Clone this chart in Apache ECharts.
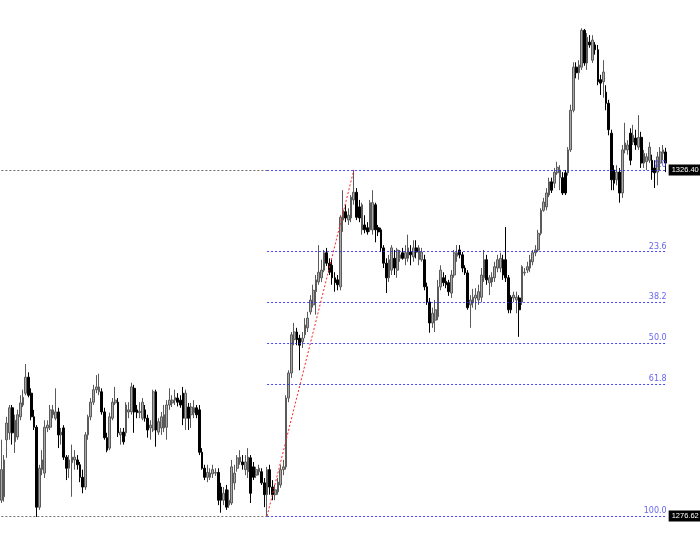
<!DOCTYPE html>
<html><head><meta charset="utf-8">
<script src="https://cdn.jsdelivr.net/npm/echarts@6/dist/echarts.min.js"></script>
<style>html,body{margin:0;padding:0;background:#fff}#c{width:700px;height:545px}</style>
</head><body><div id="c"></div>
<script>
// [open, close, low, high]
const ohlc = [
[1278.9,1283.3,1278.5,1287.6],[1279.4,1284.7,1278.7,1285.4],[1287.6,1290.0,1285.0,1290.9],[1288.6,1292.2,1287.6,1292.6],
[1292.2,1288.6,1286.9,1292.6],[1287.3,1290.4,1285.7,1291.2],[1288.0,1291.2,1287.6,1291.9],[1290.9,1292.9,1290.4,1294.0],
[1292.6,1293.7,1292.3,1294.8],[1294.3,1296.6,1294.0,1298.5],[1296.6,1294.0,1293.7,1297.3],[1294.3,1290.9,1290.4,1295.0],
[1290.9,1289.4,1289.0,1291.9],[1289.4,1277.9,1276.5,1289.7],[1277.9,1283.5,1277.5,1284.0],[1283.3,1284.7,1282.5,1286.1],
[1282.8,1289.4,1282.1,1290.4],[1289.3,1289.7,1288.7,1290.4],[1289.4,1291.9,1289.0,1292.6],[1291.2,1291.9,1290.7,1292.6],
[1290.7,1291.6,1290.4,1295.0],[1291.6,1288.3,1286.4,1292.2],[1288.3,1288.7,1286.9,1289.3],[1289.3,1285.1,1284.7,1289.7],
[1285.1,1283.5,1281.8,1285.4],[1283.5,1284.7,1282.1,1285.4],[1284.3,1285.1,1279.4,1286.9],[1284.7,1285.1,1283.3,1286.1],
[1284.7,1284.0,1283.3,1285.4],[1284.0,1282.2,1281.5,1284.4],[1282.2,1280.8,1279.9,1283.3],[1280.8,1288.3,1280.4,1288.7],
[1288.3,1290.9,1287.6,1291.2],[1290.9,1293.0,1290.4,1293.6],[1293.0,1294.8,1292.6,1295.5],[1294.8,1295.2,1294.3,1296.9],
[1294.5,1295.2,1294.0,1297.1],[1294.5,1291.6,1291.2,1295.0],[1291.6,1287.9,1287.6,1292.2],[1287.9,1286.1,1285.8,1288.6],
[1286.4,1290.9,1286.1,1291.5],[1290.7,1293.0,1290.4,1293.6],[1292.9,1293.3,1292.6,1295.2],[1293.0,1288.6,1288.0,1293.6],
[1288.3,1288.7,1286.9,1289.3],[1288.7,1287.3,1286.9,1289.3],[1288.6,1292.6,1288.1,1293.0],[1291.6,1291.9,1290.7,1293.0],
[1291.6,1295.2,1291.2,1295.8],[1295.0,1291.6,1288.6,1295.5],[1291.9,1291.5,1290.7,1292.6],[1291.5,1291.7,1290.7,1293.0],
[1290.7,1293.0,1290.4,1293.6],[1291.9,1290.7,1290.2,1292.6],[1290.7,1289.0,1287.9,1291.2],[1289.3,1289.7,1287.6,1290.4],
[1289.0,1294.5,1288.7,1294.8],[1294.5,1289.0,1286.6,1294.8],[1288.7,1290.2,1288.3,1290.7],[1289.3,1290.9,1288.3,1291.6],
[1289.3,1291.2,1288.7,1292.6],[1289.4,1292.6,1287.6,1293.3],[1292.6,1293.3,1291.9,1295.0],[1292.9,1293.3,1292.3,1294.0],
[1293.3,1293.7,1292.6,1294.8],[1293.6,1293.0,1292.4,1294.3],[1293.3,1292.6,1292.2,1294.0],[1294.3,1290.7,1289.7,1295.2],
[1290.7,1294.3,1289.0,1294.8],[1292.3,1290.7,1289.0,1292.9],[1291.2,1292.3,1289.3,1292.9],[1291.5,1292.2,1290.7,1293.3],
[1292.2,1291.2,1290.7,1292.6],[1291.9,1285.8,1285.4,1292.6],[1285.8,1283.5,1283.3,1286.4],[1283.5,1282.2,1281.8,1284.0],
[1282.2,1282.9,1281.5,1284.0],[1282.2,1282.8,1281.8,1283.5],[1282.7,1283.3,1282.1,1284.0],[1282.8,1282.9,1282.4,1283.5],
[1282.9,1278.9,1278.2,1283.5],[1280.8,1278.9,1277.1,1281.4],[1278.9,1279.9,1278.2,1280.8],[1280.4,1277.9,1277.5,1281.1],
[1278.2,1278.9,1277.8,1280.4],
[1278.5,1283.7,1278.2,1284.7],[1281.4,1282.8,1280.4,1284.0],[1283.5,1285.0,1283.0,1285.4],[1284.4,1285.1,1284.0,1286.1],
[1284.4,1284.0,1283.3,1285.4],[1283.3,1284.4,1282.5,1285.4],[1283.0,1285.1,1282.1,1286.4],[1285.0,1279.9,1278.5,1285.4],
[1283.7,1282.2,1281.8,1284.4],[1282.5,1283.3,1282.1,1283.7],[1283.0,1283.5,1282.5,1284.0],[1283.0,1281.4,1281.1,1283.5],
[1281.4,1279.7,1277.9,1282.1],[1279.7,1283.3,1276.62,1283.7],[1283.3,1280.8,1279.7,1284.0],[1280.8,1279.7,1278.9,1281.8],
[1279.7,1280.4,1278.9,1281.1],[1280.1,1281.5,1279.7,1282.1],[1281.1,1283.3,1280.7,1284.0],[1283.3,1283.7,1282.5,1284.7],
[1283.7,1293.6,1283.3,1294.0],[1293.6,1297.2,1293.0,1297.6],[1297.2,1302.7,1296.5,1303.1],[1302.0,1303.1,1301.2,1304.4],
[1303.1,1302.0,1301.2,1303.7],[1302.2,1301.2,1297.6,1302.7],[1301.7,1302.2,1300.8,1303.1],[1302.7,1304.1,1302.2,1305.1],
[1303.7,1305.1,1303.1,1306.0],[1306.0,1307.7,1305.6,1308.4],[1307.0,1309.1,1306.6,1309.9],[1308.9,1310.6,1305.6,1311.3],
[1310.3,1311.7,1309.9,1315.6],[1310.9,1312.0,1310.3,1313.5],[1312.0,1314.5,1311.7,1314.9],[1314.5,1313.0,1312.6,1315.2],
[1313.0,1311.7,1311.3,1313.7],[1312.7,1310.9,1309.9,1313.5],[1310.9,1310.2,1308.9,1311.7],[1310.6,1309.9,1309.1,1311.3],
[1309.6,1319.6,1309.1,1319.9],[1319.2,1320.6,1317.5,1323.5],[1320.4,1319.5,1318.9,1321.4],[1319.2,1319.9,1318.5,1320.9],
[1319.5,1322.5,1318.9,1322.8],[1322.1,1323.2,1321.4,1326.4],[1323.2,1319.6,1319.2,1323.8],[1321.1,1319.5,1318.9,1322.1],
[1317.8,1321.4,1317.1,1321.7],[1318.5,1317.8,1317.3,1319.9],[1318.1,1317.5,1317.1,1318.9],[1317.8,1321.7,1317.5,1322.1],
[1317.8,1321.7,1317.1,1323.5],[1321.4,1317.8,1316.0,1321.7],[1318.1,1317.5,1316.9,1318.5],[1317.8,1315.2,1314.6,1318.1],
[1315.2,1313.0,1312.3,1315.6],[1313.0,1310.9,1308.7,1313.7],[1310.9,1313.5,1310.3,1314.2],[1312.0,1315.2,1311.3,1315.6],
[1313.7,1312.3,1311.3,1314.9],[1312.0,1314.9,1310.9,1315.2],[1313.7,1314.2,1313.2,1314.9],[1314.5,1313.7,1313.5,1315.2],
[1313.7,1314.5,1312.7,1315.6],[1313.7,1315.2,1313.2,1317.1],[1314.6,1314.2,1312.7,1315.6],[1313.9,1315.2,1313.2,1316.3],
[1315.2,1314.6,1313.7,1316.3],[1313.5,1315.2,1312.7,1315.6],[1313.5,1314.6,1313.2,1315.2],[1313.5,1309.6,1309.1,1314.2],
[1309.6,1307.4,1307.0,1310.2],[1307.4,1304.4,1303.0,1308.0],[1304.4,1305.8,1303.7,1306.6],[1304.8,1306.3,1303.1,1307.7],
[1305.3,1309.6,1304.8,1310.6],[1309.6,1312.0,1309.1,1312.7],[1310.9,1310.2,1309.7,1311.7],[1310.4,1309.9,1309.4,1311.3],
[1310.2,1308.9,1308.3,1310.6],[1308.7,1311.3,1308.0,1312.0],[1311.3,1314.5,1310.9,1314.9],[1314.0,1314.5,1313.2,1315.6],
[1314.9,1314.2,1313.7,1315.6],[1314.2,1312.3,1311.7,1314.6],[1312.3,1311.6,1311.3,1312.7],[1311.6,1306.6,1306.3,1312.0],
[1307.0,1307.7,1303.7,1308.4],[1307.3,1308.1,1306.6,1309.3],[1308.0,1308.4,1306.3,1309.4],[1307.7,1308.9,1307.0,1309.9],
[1308.1,1311.3,1307.4,1312.3],[1310.9,1313.5,1310.3,1314.9],[1313.5,1310.6,1309.9,1314.2],[1310.2,1310.9,1308.4,1311.3],
[1310.3,1311.0,1309.6,1311.7],[1310.9,1312.5,1310.3,1313.2],[1312.3,1313.5,1311.7,1314.2],[1312.3,1313.7,1311.7,1314.5],
[1313.5,1311.3,1310.6,1314.2],[1313.5,1310.9,1310.3,1318.2],[1310.9,1306.3,1305.8,1311.3],[1308.1,1306.3,1305.8,1308.4],
[1308.0,1308.4,1307.4,1308.9],[1307.7,1308.1,1305.8,1308.9],[1308.0,1306.3,1302.4,1308.4],[1307.4,1312.5,1307.0,1312.7],
[1311.6,1311.7,1311.2,1312.3],[1312.0,1312.5,1311.6,1313.2],[1312.3,1313.5,1311.7,1314.2],[1313.2,1314.5,1312.7,1314.9],
[1314.5,1314.9,1314.0,1315.6],[1314.9,1317.3,1314.6,1317.8],[1317.3,1320.6,1317.0,1320.9],[1320.6,1321.8,1320.4,1322.4],
[1321.1,1323.1,1320.6,1323.8],[1322.8,1324.7,1322.5,1325.3],[1324.7,1323.5,1323.1,1325.3],[1324.5,1326.1,1323.8,1326.7],
[1326.0,1326.8,1325.7,1327.6],[1325.3,1326.4,1323.5,1327.1],[1325.3,1323.1,1322.8,1326.1],[1326.0,1323.1,1322.8,1326.4],
[1326.0,1329.3,1325.6,1329.7],[1329.3,1335.0,1329.0,1335.8],[1335.0,1341.2,1334.7,1341.9],[1341.2,1340.4,1339.6,1341.9],
[1340.4,1341.5,1339.4,1342.2],[1341.2,1346.5,1340.8,1346.8],[1346.5,1341.8,1341.4,1346.7],[1341.8,1345.5,1340.8,1346.1],
[1344.8,1344.4,1344.0,1345.8],[1342.2,1345.1,1341.8,1345.8],[1344.4,1343.7,1343.0,1344.8],[1343.7,1339.1,1338.6,1344.4],
[1339.4,1338.9,1337.2,1340.1],[1339.1,1340.5,1336.8,1342.2],[1337.6,1336.0,1335.0,1338.6],[1336.0,1332.2,1331.4,1336.5],
[1331.7,1325.0,1323.5,1332.2],[1326.4,1324.5,1323.5,1327.1],[1325.0,1326.1,1324.2,1327.1],[1326.1,1323.1,1321.7,1326.7],
[1323.1,1329.3,1322.4,1330.0],[1329.3,1330.3,1328.8,1333.2],[1329.3,1330.0,1328.6,1330.7],[1331.7,1327.8,1327.1,1332.4],
[1330.4,1331.4,1330.0,1332.9],[1331.0,1330.0,1329.3,1332.2],[1329.7,1331.1,1329.3,1334.3],[1331.1,1327.4,1326.7,1331.9],
[1327.4,1328.8,1326.7,1329.3],[1327.6,1328.3,1326.4,1328.8],[1327.8,1329.7,1327.4,1330.4],[1327.8,1326.1,1325.0,1328.6],
[1326.7,1326.0,1323.8,1327.8],[1326.1,1328.3,1324.2,1329.0],[1327.4,1329.0,1326.4,1329.7],[1328.8,1329.3,1327.8,1330.0],
[1329.0,1327.4,1326.1,1329.6]
];
const categories = ohlc.map((_, i) => String(i + 1));
const fibHigh = 1326.40, fibLow = 1276.62;
const fibHighBar = 130, fibLowBar = 98;
const fibLevels = [0.0, 23.6, 38.2, 50.0, 61.8, 100.0];
const fibLabels = ['0.0', '23.6', '38.2', '50.0', '61.8', '100.0'];
const yMin = 1272.46, yMax = 1350.86;

const lastCat = categories[categories.length - 1];
const fibPrice = lv => fibHigh - (fibHigh - fibLow) * lv / 100;
const blue = '#1a1aff';
const mlData = [];
// gray dotted extensions to the left
[fibHigh, fibLow].forEach(p => mlData.push([
  {coord: [categories[0], p], lineStyle: {color: '#6e6e6e', type: [2, 2], width: 1}, label: {show: false}},
  {coord: [categories[fibLowBar], p]}
]));
// fib levels
fibLevels.forEach((lv, k) => mlData.push([
  {coord: [categories[fibLowBar], fibPrice(lv)], lineStyle: {color: blue, type: [2, 2], width: 1, opacity: 0.8},
   label: {show: true, position: 'insideEndTop', formatter: fibLabels[k], color: '#3c3cf0', fontSize: 8, distance: [-1, 1], fontFamily: 'DejaVu Sans'}},
  {coord: [lastCat, fibPrice(lv)]}
]));
// price tags (carried by a transparent copy of the extreme level lines)
[fibHigh, fibLow].forEach(p => mlData.push([
  {coord: [categories[fibLowBar], p], lineStyle: {color: 'rgba(255,255,255,0)', width: 1},
   label: {show: true, position: 'end', distance: 3, formatter: p.toFixed(2), color: '#fff', backgroundColor: '#000', padding: [2, 2, 1, 3], fontSize: 7.5, fontFamily: 'Liberation Sans'}},
  {coord: [lastCat, p]}
]));
// trend line
mlData.push([
  {coord: [categories[fibLowBar], fibLow], lineStyle: {color: '#ff2020', type: [2, 2], width: 1}, label: {show: false}},
  {coord: [categories[fibHighBar], fibHigh]}
]);

const chart = echarts.init(document.getElementById('c'), null, {renderer: 'canvas'});
chart.setOption({
  animation: false,
  backgroundColor: '#fff',
  grid: {left: 0, right: 33, top: 0, bottom: 0},
  xAxis: {type: 'category', data: categories, show: false, boundaryGap: true},
  yAxis: {type: 'value', min: yMin, max: yMax, show: false, splitLine: {show: false}},
  series: [{
    type: 'candlestick',
    data: ohlc,
    barWidth: 2.2,
    itemStyle: {color: '#a9a9a9', color0: '#000', borderColor: '#5a5a5a', borderColor0: '#000', borderWidth: 1},
    markLine: {silent: true, symbol: ['none', 'none'], animation: false, data: mlData}
  }]
});
</script></body></html>
